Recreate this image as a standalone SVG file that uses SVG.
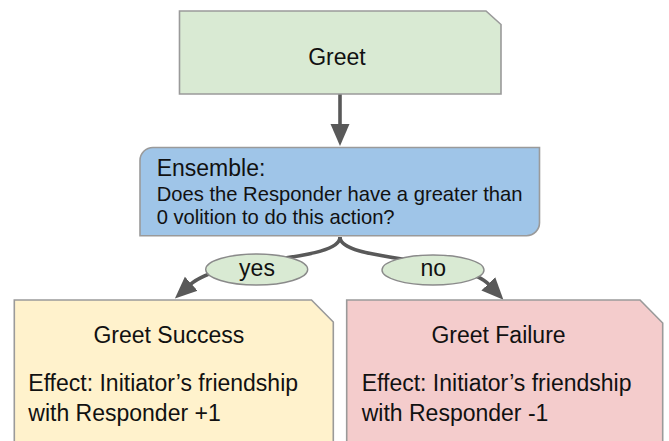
<svg xmlns="http://www.w3.org/2000/svg" width="669" height="441" viewBox="0 0 669 441">
  <style>
    .box { stroke: #9a9a9a; stroke-width: 1.6; }
    .t { font-family: "Liberation Sans", Arial, sans-serif; fill: #111; }
    .big { font-size: 23px; }
    .small { font-size: 20.2px; }
    .conn { fill: none; stroke: #595959; stroke-width: 3.6; }
    .lbl { fill: #d9ead3; stroke: #8a8a8a; stroke-width: 1.4; }
  </style>
  <defs>
    <marker id="arrow" markerUnits="userSpaceOnUse" markerWidth="24" markerHeight="22" viewBox="0 0 24 22" refX="1" refY="11" orient="auto">
      <path d="M0,1.5 L22,11 L0,20.5 Z" fill="#595959"/>
    </marker>
  </defs>
  <rect width="669" height="441" fill="#ffffff"/>

  <g id="connectors">
    <path class="conn" d="M340,94 V125" marker-end="url(#arrow)"/>
    <path class="conn" d="M340,237 C340,262 222,256 190.5,284.4" marker-end="url(#arrow)"/>
    <path class="conn" d="M340,237 C340,262 462,256 489,284.6" marker-end="url(#arrow)"/>
    <g id="label-yes">
      <ellipse class="lbl" cx="256.7" cy="269.5" rx="51" ry="15.5"/>
      <text class="t big" x="257" y="276" text-anchor="middle">yes</text>
    </g>
    <g id="label-no">
      <ellipse class="lbl" cx="433" cy="270" rx="51" ry="15"/>
      <text class="t big" x="433.3" y="276" text-anchor="middle">no</text>
    </g>
  </g>

  <g id="greet">
    <path class="box" fill="#d9ead3" d="M179.5,11 H486 L501,24.5 V94 H179.5 Z"/>
    <text class="t big" x="337" y="65" text-anchor="middle">Greet</text>
  </g>

  <g id="ensemble">
    <path class="box" fill="#9fc5e8" d="M140,235.7 V160.5 A13,13 0 0 1 153,147.5 H539.5 V222.7 A13,13 0 0 1 526.5,235.7 Z"/>
    <text class="t big" x="156.7" y="176">Ensemble:</text>
    <text class="t small" x="156.7" y="201">Does the Responder have a greater than</text>
    <text class="t small" x="156.7" y="224">0 volition to do this action?</text>
  </g>

  <g id="greet-success">
    <path class="box" fill="#fff2cc" d="M14.3,300 H311.5 L333.3,322 V446 H14.3 Z"/>
    <text class="t big" x="168.8" y="343" text-anchor="middle">Greet Success</text>
    <text class="t big" x="28.3" y="390.7">Effect: Initiator’s friendship</text>
    <text class="t big" x="28.3" y="421">with Responder +1</text>
  </g>

  <g id="greet-failure">
    <path class="box" fill="#f4cccc" d="M346.7,300 H640 L662.7,323 V446 H346.7 Z"/>
    <text class="t big" x="498.5" y="343" text-anchor="middle">Greet Failure</text>
    <text class="t big" x="361.7" y="390.7">Effect: Initiator’s friendship</text>
    <text class="t big" x="361.7" y="421">with Responder -1</text>
  </g>
</svg>
